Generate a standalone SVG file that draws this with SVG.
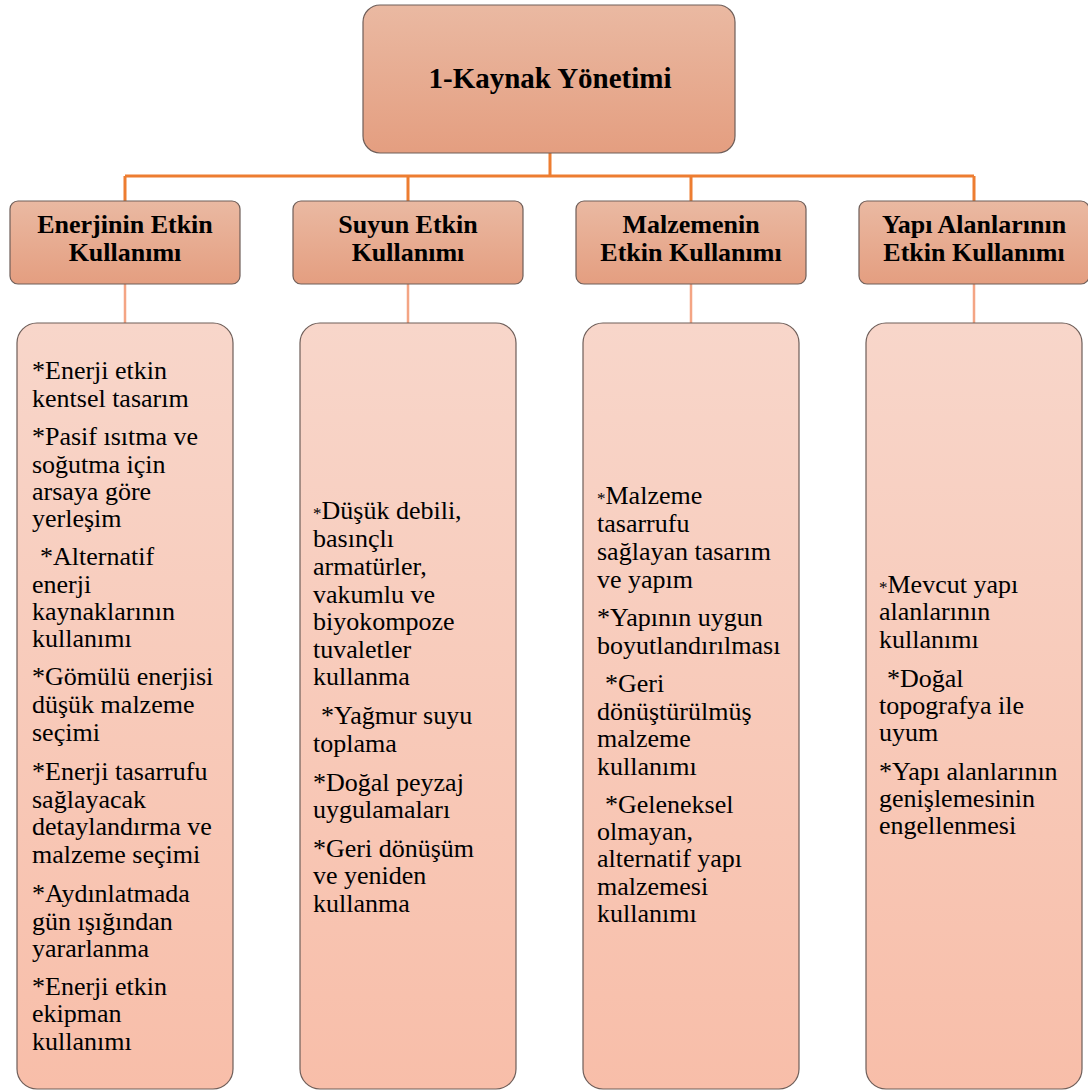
<svg xmlns="http://www.w3.org/2000/svg" width="1088" height="1092" viewBox="0 0 1088 1092">
  <defs>
    <linearGradient id="gHead" x1="0" y1="0" x2="0" y2="1">
      <stop offset="0" stop-color="#EAB9A2"/>
      <stop offset="1" stop-color="#E49E80"/>
    </linearGradient>
    <linearGradient id="gBody" x1="0" y1="0" x2="0" y2="1">
      <stop offset="0" stop-color="#F8D6CA"/>
      <stop offset="1" stop-color="#F8BEA9"/>
    </linearGradient>
    <style>
      .head { fill: url(#gHead); stroke: #6E5E59; stroke-width: 1.2; }
      .body { fill: url(#gBody); stroke: #6E5E59; stroke-width: 1.2; }
      .trunk { stroke: #ED7D31; stroke-width: 3; fill: none; }
      .twig { stroke: #F4A584; stroke-width: 2.5; fill: none; }
      text { font-family: 'Liberation Serif', 'Times New Roman', serif; fill: #000; }
      .title { font-weight: bold; font-size: 29px; text-anchor: middle; }
      .htxt { font-weight: bold; font-size: 26px; text-anchor: middle; }
      .btxt { font-size: 26px; }
      .sm { font-size: 17px; }
    </style>
  </defs>

  <!-- connectors -->
  <g id="connectors">
    <path class="trunk" d="M550 153 V176 M125 176 H974 M125 176 V201 M408 176 V201 M691 176 V201 M974 176 V201"/>
    <path class="twig" d="M125 284 V323 M408 284 V323 M691 284 V323 M974 284 V323"/>
  </g>

  <!-- root -->
  <g id="root">
    <rect class="head" x="363" y="5" width="372" height="148" rx="17"/>
    <text class="title" x="550" y="88">1-Kaynak Yönetimi</text>
  </g>

  <!-- category headers -->
  <g id="h-enerji">
    <rect class="head" x="10" y="201" width="230" height="83" rx="8"/>
    <text class="htxt" x="125" y="233">Enerjinin Etkin</text>
    <text class="htxt" x="125" y="261">Kullanımı</text>
  </g>
  <g id="h-su">
    <rect class="head" x="293" y="201" width="230" height="83" rx="8"/>
    <text class="htxt" x="408" y="233">Suyun Etkin</text>
    <text class="htxt" x="408" y="261">Kullanımı</text>
  </g>
  <g id="h-malzeme">
    <rect class="head" x="576" y="201" width="230" height="83" rx="8"/>
    <text class="htxt" x="691" y="233">Malzemenin</text>
    <text class="htxt" x="691" y="261">Etkin Kullanımı</text>
  </g>
  <g id="h-yapi">
    <rect class="head" x="859" y="201" width="230" height="83" rx="8"/>
    <text class="htxt" x="974" y="233">Yapı Alanlarının</text>
    <text class="htxt" x="974" y="261">Etkin Kullanımı</text>
  </g>

  <!-- detail lists -->
  <g id="d-enerji">
    <rect class="body" x="17" y="323" width="216" height="766" rx="20"/>
    <text class="btxt" x="32" y="379">*Enerji etkin</text>
    <text class="btxt" x="32" y="407">kentsel tasarım</text>
    <text class="btxt" x="32" y="445">*Pasif ısıtma ve</text>
    <text class="btxt" x="32" y="473">soğutma için</text>
    <text class="btxt" x="32" y="500">arsaya göre</text>
    <text class="btxt" x="32" y="527">yerleşim</text>
    <text class="btxt" x="40" y="565">*Alternatif</text>
    <text class="btxt" x="32" y="593">enerji</text>
    <text class="btxt" x="32" y="620">kaynaklarının</text>
    <text class="btxt" x="32" y="647">kullanımı</text>
    <text class="btxt" x="32" y="685">*Gömülü enerjisi</text>
    <text class="btxt" x="32" y="713">düşük malzeme</text>
    <text class="btxt" x="32" y="741">seçimi</text>
    <text class="btxt" x="32" y="780">*Enerji tasarrufu</text>
    <text class="btxt" x="32" y="808">sağlayacak</text>
    <text class="btxt" x="32" y="835">detaylandırma ve</text>
    <text class="btxt" x="32" y="863">malzeme seçimi</text>
    <text class="btxt" x="32" y="902">*Aydınlatmada</text>
    <text class="btxt" x="32" y="930">gün ışığından</text>
    <text class="btxt" x="32" y="957">yararlanma</text>
    <text class="btxt" x="32" y="995">*Enerji etkin</text>
    <text class="btxt" x="32" y="1022">ekipman</text>
    <text class="btxt" x="32" y="1050">kullanımı</text>
  </g>
  <g id="d-su">
    <rect class="body" x="300" y="323" width="216" height="766" rx="20"/>
    <text class="btxt" x="313" y="519"><tspan class="sm">*</tspan>Düşük debili,</text>
    <text class="btxt" x="313" y="547">basınçlı</text>
    <text class="btxt" x="313" y="575">armatürler,</text>
    <text class="btxt" x="313" y="603">vakumlu ve</text>
    <text class="btxt" x="313" y="630">biyokompoze</text>
    <text class="btxt" x="313" y="658">tuvaletler</text>
    <text class="btxt" x="313" y="685">kullanma</text>
    <text class="btxt" x="321" y="724">*Yağmur suyu</text>
    <text class="btxt" x="313" y="752">toplama</text>
    <text class="btxt" x="313" y="791">*Doğal peyzaj</text>
    <text class="btxt" x="313" y="818">uygulamaları</text>
    <text class="btxt" x="313" y="857">*Geri dönüşüm</text>
    <text class="btxt" x="313" y="884">ve yeniden</text>
    <text class="btxt" x="313" y="912">kullanma</text>
  </g>
  <g id="d-malzeme">
    <rect class="body" x="583" y="323" width="216" height="766" rx="20"/>
    <text class="btxt" x="597" y="504"><tspan class="sm">*</tspan>Malzeme</text>
    <text class="btxt" x="597" y="532">tasarrufu</text>
    <text class="btxt" x="597" y="560">sağlayan tasarım</text>
    <text class="btxt" x="597" y="588">ve yapım</text>
    <text class="btxt" x="597" y="626">*Yapının uygun</text>
    <text class="btxt" x="597" y="654">boyutlandırılması</text>
    <text class="btxt" x="605" y="692">*Geri</text>
    <text class="btxt" x="597" y="720">dönüştürülmüş</text>
    <text class="btxt" x="597" y="747">malzeme</text>
    <text class="btxt" x="597" y="775">kullanımı</text>
    <text class="btxt" x="605" y="813">*Geleneksel</text>
    <text class="btxt" x="597" y="840">olmayan,</text>
    <text class="btxt" x="597" y="867">alternatif yapı</text>
    <text class="btxt" x="597" y="895">malzemesi</text>
    <text class="btxt" x="597" y="922">kullanımı</text>
  </g>
  <g id="d-yapi">
    <rect class="body" x="866" y="323" width="216" height="766" rx="20"/>
    <text class="btxt" x="879" y="593"><tspan class="sm">*</tspan>Mevcut yapı</text>
    <text class="btxt" x="879" y="620">alanlarının</text>
    <text class="btxt" x="879" y="648">kullanımı</text>
    <text class="btxt" x="887" y="687">*Doğal</text>
    <text class="btxt" x="879" y="714">topografya ile</text>
    <text class="btxt" x="879" y="741">uyum</text>
    <text class="btxt" x="879" y="780">*Yapı alanlarının</text>
    <text class="btxt" x="879" y="807">genişlemesinin</text>
    <text class="btxt" x="879" y="834">engellenmesi</text>
  </g>
</svg>
